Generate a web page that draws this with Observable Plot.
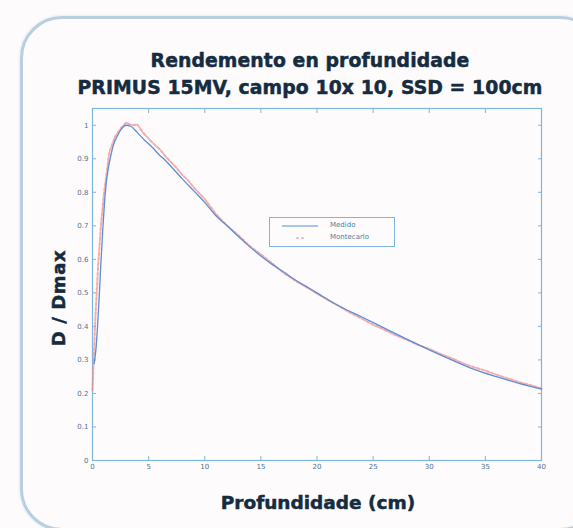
<!DOCTYPE html>
<html><head><meta charset="utf-8">
<script src="https://cdn.jsdelivr.net/npm/d3@7"></script>
<script src="https://cdn.jsdelivr.net/npm/@observablehq/plot@0.6"></script>
<style>
body{margin:0;background:#fdfbfc;}
#wrap{position:relative;width:573px;height:528px;overflow:hidden;font-family:"DejaVu Sans",sans-serif;}
#frame{position:absolute;left:20px;top:16px;width:576px;height:509px;border:3px solid #b9cfdf;border-radius:42px;box-shadow:0 0 3px #d3e0ea;}
.t{position:absolute;left:0;width:620px;text-align:center;font-weight:bold;color:#152c40;font-size:18.8px;letter-spacing:0.1px;-webkit-text-stroke:0.5px #152c40;}
#ylab{position:absolute;left:58px;top:298px;transform:translate(-50%,-50%) rotate(-90deg);font-weight:bold;color:#152c40;font-size:18px;letter-spacing:0.6px;white-space:nowrap;-webkit-text-stroke:0.5px #152c40;}
#xlab{position:absolute;left:0;width:636px;top:492px;text-align:center;font-weight:bold;color:#152c40;font-size:18.5px;-webkit-text-stroke:0.5px #152c40;}
#legend{position:absolute;left:269px;top:217px;width:124px;height:28px;border:1px solid #7fb6dc;background:#fdfbfc;font-size:7px;color:#4f7b9c;}
#plot{position:absolute;left:0;top:0;}
</style></head>
<body><div id="wrap">
<div id="frame"></div>
<div id="plot"></div>
<div class="t" style="top:50px">Rendemento en profundidade</div>
<div class="t" style="top:77px">PRIMUS 15MV, campo 10x 10, SSD = 100cm</div>
<div id="ylab">D / Dmax</div>
<div id="xlab">Profundidade (cm)</div>
<div id="legend">
<svg width="124" height="28" style="position:absolute;left:0;top:0">
<line x1="12" x2="48" y1="8" y2="8" stroke="#5b8fd6" stroke-width="1.2"/>
<line x1="26" x2="34" y1="20" y2="20" stroke="#f08a8a" stroke-width="1" stroke-dasharray="3,2"/>
</svg>
<div style="position:absolute;left:60px;top:3px">Medido</div>
<div style="position:absolute;left:60px;top:15px">Montecarlo</div>
</div>
</div>
<script>
const xTicks = [0,5,10,15,20,25,30,35,40];
const yTicks = [0,0.1,0.2,0.3,0.4,0.5,0.6,0.7,0.8,0.9,1];
const medidoDepth = [0.15,0.3,0.45,0.6,0.75,0.9,1.05,1.2,1.4,1.6,1.9,2.2,2.6,3.0,3.4,4.0,4.6,5.3,6,6.5,7,8,9,10,11,12,13,14,15,16,17,18,19,20,22,24,26,28,30,32,34,36,38,40];
const medidoDose  = [0.29,0.33,0.40,0.49,0.59,0.68,0.76,0.82,0.87,0.905,0.945,0.967,0.99,1.0,0.997,0.978,0.957,0.935,0.91,0.895,0.877,0.84,0.805,0.77,0.73,0.70,0.668,0.638,0.61,0.585,0.563,0.54,0.52,0.50,0.46,0.428,0.395,0.362,0.33,0.30,0.272,0.25,0.23,0.213];
const mcDepth = [0,0.25,0.5,0.75,1,1.5,2,2.5,3,3.5,4,4.5,5,5.5,6,6.5,7,7.5,8,8.5,9,10,11,12,13,14,15,16,17,18,19,20,21,22,23,24,25,26,27,28,29,30,31,32,33,34,35,36,37,38,39,40];
const mcDose  = [0.21,0.42,0.58,0.70,0.79,0.92,0.965,0.99,1.008,1.0,1.002,0.978,0.96,0.943,0.928,0.908,0.89,0.872,0.852,0.836,0.815,0.78,0.735,0.70,0.672,0.64,0.615,0.588,0.56,0.538,0.518,0.498,0.478,0.46,0.44,0.423,0.405,0.39,0.374,0.36,0.345,0.333,0.318,0.305,0.29,0.278,0.268,0.256,0.245,0.234,0.225,0.215];

const medido = medidoDepth.map((d,i)=>({x:d,y:medidoDose[i]}));
const mc = mcDepth.map((d,i)=>({x:d,y:mcDose[i]}));
const axisColor = "#7fb6dc";
const chart = Plot.plot({
  width:573, height:528,
  marginLeft:92, marginRight:32, marginTop:108, marginBottom:68,
  style:{background:"transparent", fontFamily:"DejaVu Sans, sans-serif", fontSize:"7px", color:"#4f7390"},
  x:{domain:[0,40]},
  y:{domain:[0,1.05]},
  marks:[
    Plot.frame({stroke:axisColor, strokeWidth:1.2}),
    Plot.axisX({anchor:"bottom", ticks:xTicks, tickSize:-4, tickPadding:8, stroke:axisColor, label:null, tickFormat:d=>String(d)}),
    Plot.axisX({anchor:"top", ticks:xTicks, tickSize:-4, tickFormat:()=>"", stroke:axisColor, label:null}),
    Plot.axisY({anchor:"left", ticks:yTicks, tickSize:-4, tickPadding:8, stroke:axisColor, label:null, tickFormat:d=>String(+d.toFixed(1))}),
    Plot.axisY({anchor:"right", ticks:yTicks, tickSize:-4, tickFormat:()=>"", stroke:axisColor, label:null}),
    Plot.line(mc, {x:"x", y:"y", stroke:"#f08a8a", strokeWidth:2, strokeDasharray:"3,2", strokeOpacity:0.7, curve:"linear"}),
    Plot.line(medido, {x:"x", y:"y", stroke:"#5b8fd6", strokeWidth:1.3, curve:"monotone-x"})
  ]
});
document.getElementById("plot").appendChild(chart);
</script>
</body></html>
